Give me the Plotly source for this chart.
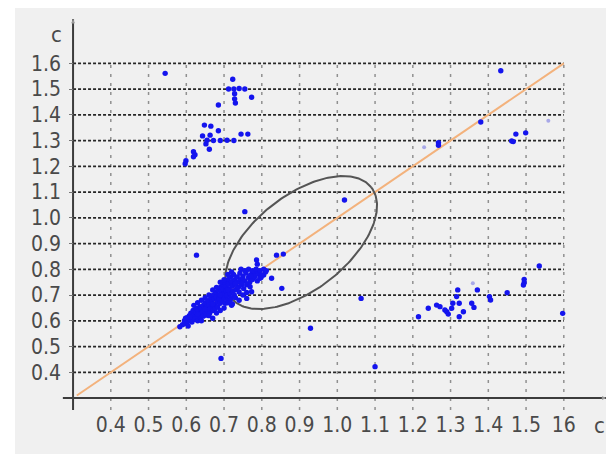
import numpy as np
import plotly.graph_objects as go

# ---------------- data ----------------
tick_values = [0.4, 0.5, 0.6, 0.7, 0.8, 0.9, 1.0, 1.1, 1.2, 1.3, 1.4, 1.5, 1.6]
x_tick_labels = ["0.4", "0.5", "0.6", "0.7", "0.8", "0.9", "1.0", "1.1", "1.2", "1.3", "1.4", "1.5", "16"]
y_tick_labels = ["0.4", "0.5", "0.6", "0.7", "0.8", "0.9", "1.0", "1.1", "1.2", "1.3", "1.4", "1.5", "1.6"]

cluster_x = [0.583, 0.590, 0.595, 0.600, 0.602, 0.605, 0.608, 0.610, 0.612, 0.615, 0.615, 0.618, 0.620, 0.622,
             0.625, 0.627, 0.628, 0.630, 0.632, 0.635, 0.636, 0.638, 0.640, 0.642, 0.645, 0.645, 0.648, 0.650,
             0.650, 0.652, 0.655, 0.656, 0.658, 0.660, 0.662, 0.664, 0.665, 0.668, 0.670, 0.670, 0.672, 0.674,
             0.675, 0.677, 0.678, 0.680, 0.682, 0.683, 0.685, 0.686, 0.688, 0.690, 0.690, 0.692, 0.694, 0.695,
             0.697, 0.698, 0.700, 0.700, 0.702, 0.703, 0.705, 0.706, 0.708, 0.710, 0.710, 0.712, 0.714, 0.715,
             0.717, 0.718, 0.720, 0.722, 0.724, 0.725, 0.727, 0.728, 0.730, 0.732, 0.735, 0.736, 0.738, 0.740,
             0.742, 0.744, 0.746, 0.750, 0.752, 0.755, 0.758, 0.760, 0.765, 0.768, 0.772, 0.775, 0.780, 0.782,
             0.788, 0.792, 0.798, 0.805, 0.810, 0.716, 0.722,
             0.620, 0.640, 0.660, 0.680, 0.700, 0.710, 0.720, 0.690, 0.670, 0.650, 0.630,
             0.640, 0.660, 0.680, 0.700, 0.720, 0.740, 0.750, 0.760, 0.730, 0.710, 0.690, 0.670,
             0.610, 0.630, 0.650, 0.670, 0.690, 0.710, 0.730, 0.750, 0.770, 0.790, 0.605, 0.598]
cluster_y = [0.577, 0.585, 0.600, 0.590, 0.612, 0.598, 0.620, 0.605, 0.630, 0.612, 0.595, 0.640, 0.622, 0.606,
             0.632, 0.648, 0.615, 0.600, 0.640, 0.625, 0.655, 0.612, 0.645, 0.632, 0.660, 0.618, 0.648, 0.670,
             0.635, 0.622, 0.655, 0.640, 0.678, 0.662, 0.630, 0.648, 0.690, 0.672, 0.655, 0.640, 0.700, 0.685,
             0.662, 0.648, 0.710, 0.692, 0.675, 0.655, 0.720, 0.700, 0.685, 0.668, 0.730, 0.712, 0.695, 0.678,
             0.740, 0.722, 0.705, 0.688, 0.750, 0.668, 0.732, 0.715, 0.698, 0.760, 0.680, 0.742, 0.724, 0.706,
             0.770, 0.690, 0.752, 0.735, 0.716, 0.780, 0.700, 0.760, 0.742, 0.722, 0.770, 0.750, 0.730, 0.712,
             0.785, 0.760, 0.740, 0.772, 0.725, 0.755, 0.785, 0.740, 0.768, 0.750, 0.780, 0.760, 0.790, 0.772,
             0.755, 0.782, 0.768, 0.778, 0.790, 0.680, 0.665,
             0.660, 0.680, 0.700, 0.730, 0.760, 0.780, 0.790, 0.750, 0.720, 0.690, 0.670,
             0.600, 0.620, 0.630, 0.650, 0.660, 0.680, 0.700, 0.710, 0.690, 0.670, 0.640, 0.610,
             0.615, 0.625, 0.645, 0.665, 0.700, 0.720, 0.745, 0.760, 0.775, 0.790, 0.580, 0.610]

bar_x = [0.745, 0.755, 0.765, 0.775, 0.785, 0.795, 0.805, 0.812]
bar_y = [0.800, 0.795, 0.800, 0.795, 0.800, 0.795, 0.800, 0.795]

upper_left_x = [0.544, 0.723, 0.712, 0.726, 0.740, 0.755, 0.728, 0.728, 0.730, 0.773, 0.685, 0.648, 0.665, 0.685,
                0.745, 0.763, 0.643, 0.663, 0.655, 0.672, 0.690, 0.708, 0.726, 0.652, 0.661, 0.619, 0.623, 0.619,
                0.599, 0.597]
upper_left_y = [1.561, 1.538, 1.500, 1.500, 1.502, 1.500, 1.482, 1.462, 1.446, 1.468, 1.438, 1.360, 1.356, 1.338,
                1.325, 1.325, 1.318, 1.321, 1.301, 1.300, 1.300, 1.301, 1.300, 1.287, 1.266, 1.257, 1.245, 1.237,
                1.222, 1.210]

upper_right_x = [1.433, 1.380, 1.268, 1.268, 1.473, 1.462, 1.466, 1.499]
upper_right_y = [1.571, 1.372, 1.292, 1.282, 1.325, 1.298, 1.296, 1.330]

lower_right_x = [1.535, 1.495, 1.495, 1.493, 1.450, 1.371, 1.319, 1.403, 1.406, 1.316, 1.323, 1.306, 1.303,
                 1.290, 1.285, 1.294, 1.263, 1.272, 1.241, 1.215, 1.323, 1.334, 1.356, 1.362, 1.597]
lower_right_y = [0.813, 0.761, 0.748, 0.739, 0.709, 0.720, 0.720, 0.694, 0.681, 0.694, 0.668, 0.668, 0.649,
                 0.635, 0.642, 0.626, 0.661, 0.655, 0.649, 0.616, 0.616, 0.635, 0.668, 0.652, 0.629]

single_x = [0.692, 0.929, 1.100, 1.063, 1.019, 0.755, 0.627, 0.853, 0.839, 0.857, 0.786, 0.788, 0.826, 0.769,
            0.773, 0.760, 0.747, 0.800, 0.795]
single_y = [0.454, 0.571, 0.422, 0.687, 1.069, 1.024, 0.855, 0.726, 0.855, 0.859, 0.836, 0.820, 0.765, 0.732,
            0.713, 0.687, 0.746, 0.778, 0.765]

faint_x = [1.559, 1.230, 1.359]
faint_y = [1.377, 1.274, 0.746]

diag_x = [0.31, 1.60]
diag_y = [0.31, 1.60]

# ellipse (centre in data units, semi-axes in screen pixels, tilt in degrees)
ell_cx, ell_cy = 0.904, 0.904
ell_a_px, ell_b_px, ell_tilt = 89.3, 47.1, 38.2
px_per_x, px_per_y = 377.5, 257.5

# ---------------- figure ----------------
fig = go.Figure()

# vertical grid (dashed, grey)
vx, vy = [], []
for v in tick_values:
    vx += [v, v, None]
    vy += [0.254, 1.6, None]
fig.add_trace(go.Scatter(x=vx, y=vy, mode="lines", hoverinfo="skip",
                         line=dict(color="#909090", width=1.5, dash="3px,6px")))
# horizontal grid (dotted, dark)
hx, hy = [], []
for v in tick_values:
    hx += [0.3, 1.6, None]
    hy += [v, v, None]
fig.add_trace(go.Scatter(x=hx, y=hy, mode="lines", hoverinfo="skip",
                         line=dict(color="#262626", width=1.8, dash="3px,2px")))

# diagonal
fig.add_trace(go.Scatter(x=diag_x, y=diag_y, mode="lines", hoverinfo="skip",
                         line=dict(color="#f3b27c", width=2)))

# ellipse
t = np.linspace(0, 2 * np.pi, 240)
th = np.deg2rad(ell_tilt)
dx = ell_a_px * np.cos(t) * np.cos(th) - ell_b_px * np.sin(t) * np.sin(th)
dy = ell_a_px * np.cos(t) * np.sin(th) + ell_b_px * np.sin(t) * np.cos(th)
fig.add_trace(go.Scatter(x=ell_cx + dx / px_per_x, y=ell_cy + dy / px_per_y, mode="lines",
                         hoverinfo="skip", line=dict(color="#555555", width=2)))

marker = dict(color="#1414ee", size=5.4, line=dict(width=0))
for xs, ys in [(cluster_x, cluster_y), (bar_x, bar_y), (upper_left_x, upper_left_y),
               (upper_right_x, upper_right_y), (lower_right_x, lower_right_y), (single_x, single_y)]:
    fig.add_trace(go.Scatter(x=xs, y=ys, mode="markers", marker=marker))
fig.add_trace(go.Scatter(x=faint_x, y=faint_y, mode="markers",
                         marker=dict(color="#a8a8e8", size=4, line=dict(width=0))))

# axis lines
fig.add_trace(go.Scatter(x=[0.273, 1.712], y=[0.3, 0.3], mode="lines", hoverinfo="skip",
                         line=dict(color="#3c3c3c", width=2)))
fig.add_trace(go.Scatter(x=[0.3, 0.3], y=[0.254, 1.771], mode="lines", hoverinfo="skip",
                         line=dict(color="#3c3c3c", width=2)))

font_family = "Liberation Sans Narrow, Arial Narrow, DejaVu Sans Condensed, Liberation Sans, Arial, sans-serif"

fig.update_layout(
    width=606, height=446, autosize=False,
    margin=dict(l=35, r=5, t=2, b=4),
    paper_bgcolor="white", plot_bgcolor="rgba(0,0,0,0)",
    showlegend=False,
    xaxis=dict(range=[0.2204, 1.7197], showgrid=False, zeroline=False, showline=False,
               anchor="free", position=0.1175,
               tickvals=tick_values, ticktext=x_tick_labels, ticks="outside", ticklen=7,
               tickcolor="rgba(0,0,0,0)",
               tickfont=dict(family=font_family, size=21, color="#4a4a4a")),
    yaxis=dict(range=[0.0983, 1.807], showgrid=False, zeroline=False, showline=False,
               anchor="free", position=0.0534,
               tickvals=tick_values, ticktext=y_tick_labels, ticks="outside", ticklen=4,
               tickcolor="#777777", tickwidth=1, ticklabelstandoff=4,
               tickfont=dict(family=font_family, size=21, color="#4a4a4a")),
    shapes=[dict(type="rect", xref="paper", yref="paper", x0=-0.0495, x1=1.03, y0=-0.03, y1=1.0045,
                 fillcolor="#f0f0f0", line=dict(width=0), layer="below")],
    annotations=[
        dict(x=0.255, y=1.71, xref="x", yref="y", text="c", showarrow=False,
             font=dict(family=font_family, size=22, color="#4a4a4a")),
        dict(x=1.695, y=0.195, xref="x", yref="y", text="c", showarrow=False,
             font=dict(family=font_family, size=22, color="#4a4a4a")),
        dict(x=1.712, y=0.3, xref="x", yref="y", ax=-6, ay=0, text="", showarrow=True,
             arrowhead=2, arrowsize=0.8, arrowwidth=1, arrowcolor="#9a9a9a"),
        dict(x=0.3, y=1.771, xref="x", yref="y", ax=0, ay=6, text="", showarrow=True,
             arrowhead=2, arrowsize=0.8, arrowwidth=1, arrowcolor="#9a9a9a"),
    ],
)

fig.write_html("out.html")
